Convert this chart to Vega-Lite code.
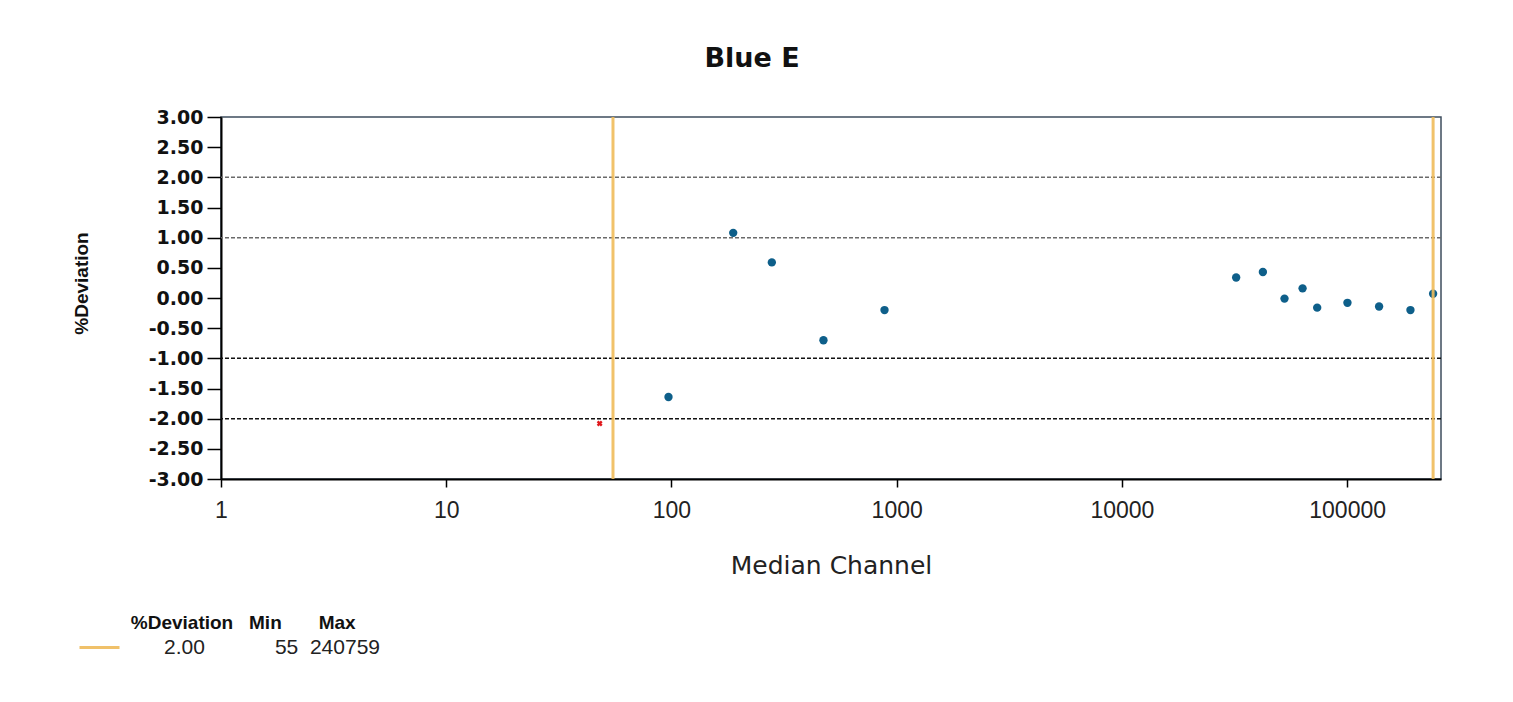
{
  "$schema": "https://vega.github.io/schema/vega-lite/v6.json",
  "width": 1220,
  "height": 362,
  "autosize": {"type": "none"},
  "padding": {"left": 221, "top": 117, "right": 72, "bottom": 223},
  "background": "#ffffff",
  "title": {
    "text": "Blue E",
    "font": "DejaVu Sans",
    "fontSize": 27,
    "fontWeight": "bold",
    "color": "#111111",
    "anchor": "middle",
    "dx": -79,
    "baseline": "alphabetic",
    "offset": 14
  },
  "config": {
    "view": {"stroke": "#3e4e5e", "strokeWidth": 1.5},
    "axis": {"grid": false}
  },
  "datasets": {
    "points": [
      {"channel": 48, "dev": -2.08, "status": "out"},
      {"channel": 97, "dev": -1.64, "status": "in"},
      {"channel": 188, "dev": 1.08, "status": "in"},
      {"channel": 279, "dev": 0.59, "status": "in"},
      {"channel": 473, "dev": -0.70, "status": "in"},
      {"channel": 883, "dev": -0.20, "status": "in"},
      {"channel": 32150, "dev": 0.34, "status": "in"},
      {"channel": 42250, "dev": 0.43, "status": "in"},
      {"channel": 52700, "dev": -0.01, "status": "in"},
      {"channel": 63400, "dev": 0.16, "status": "in"},
      {"channel": 73600, "dev": -0.16, "status": "in"},
      {"channel": 100300, "dev": -0.08, "status": "in"},
      {"channel": 138600, "dev": -0.14, "status": "in"},
      {"channel": 191000, "dev": -0.20, "status": "in"},
      {"channel": 240759, "dev": 0.07, "status": "in"}
    ],
    "upperGrid": [{"dev": 2}, {"dev": 1}],
    "lowerGrid": [{"dev": -1}, {"dev": -2}],
    "limits": [
      {"channel": 55, "limit": "2.00"},
      {"channel": 240759, "limit": "2.00"}
    ]
  },
  "layer": [
    {
      "data": {"name": "upperGrid"},
      "mark": {"type": "rule", "color": "#6a6a6a", "strokeWidth": 1.5, "strokeDash": [4, 2]},
      "encoding": {
        "y": {"field": "dev", "type": "quantitative", "scale": {"domain": [-3, 3]}}
      }
    },
    {
      "data": {"name": "lowerGrid"},
      "mark": {"type": "rule", "color": "#111111", "strokeWidth": 1.5, "strokeDash": [4, 2]},
      "encoding": {
        "y": {"field": "dev", "type": "quantitative"}
      }
    },
    {
      "data": {"name": "points"},
      "transform": [{"filter": "datum.status == 'in'"}],
      "mark": {"type": "point", "shape": "circle", "filled": true, "color": "#0e5f8a", "opacity": 1, "size": 70},
      "encoding": {
        "x": {
          "field": "channel",
          "type": "quantitative",
          "scale": {"type": "log", "domain": [1, 261000], "nice": false},
          "axis": {
            "values": [1, 10, 100, 1000, 10000, 100000],
            "tickCount": 20,
            "format": "d",
            "title": "Median Channel",
            "titleFont": "DejaVu Sans",
            "titleFontSize": 25,
            "titleFontWeight": "normal",
            "titleColor": "#222222",
            "titleY": 94,
            "titleBaseline": "alphabetic",
            "labelFont": "Liberation Sans",
            "labelFontSize": 23,
            "labelColor": "#222222",
            "labelPadding": 12,
            "labelBaseline": "top",
            "labelFlush": false,
            "labelOverlap": false,
            "domainColor": "#000000",
            "domainWidth": 2,
            "tickColor": "#000000",
            "tickWidth": 1.5,
            "tickSize": 8
          }
        },
        "y": {
          "field": "dev",
          "type": "quantitative",
          "scale": {"domain": [-3, 3], "nice": false},
          "axis": {
            "values": [-3, -2.5, -2, -1.5, -1, -0.5, 0, 0.5, 1, 1.5, 2, 2.5, 3],
            "tickCount": 20,
            "format": ".2f",
            "labelExpr": "replace(datum.label, '\u2212', '-')",
            "labelOverlap": false,
            "title": "%Deviation",
            "titleFont": "Liberation Sans",
            "titleFontSize": 19,
            "titleFontWeight": "bold",
            "titleColor": "#111111",
            "titleX": -140,
            "titleY": 166,
            "titleAngle": -90,
            "titleAlign": "center",
            "titleBaseline": "middle",
            "labelFont": "DejaVu Sans",
            "labelFontSize": 19,
            "labelFontWeight": "bold",
            "labelColor": "#111111",
            "labelPadding": 4,
            "domainColor": "#000000",
            "domainWidth": 2,
            "tickColor": "#000000",
            "tickWidth": 1.5,
            "tickSize": 14
          }
        }
      }
    },
    {
      "data": {"name": "points"},
      "transform": [{"filter": "datum.status == 'out'"}],
      "mark": {"type": "point", "shape": "cross", "angle": 45, "filled": true, "color": "#e0181c", "opacity": 1, "size": 35},
      "encoding": {
        "x": {"field": "channel", "type": "quantitative"},
        "y": {"field": "dev", "type": "quantitative"}
      }
    },
    {
      "data": {"name": "limits"},
      "mark": {"type": "rule", "strokeWidth": 3, "opacity": 0.9},
      "encoding": {
        "x": {"field": "channel", "type": "quantitative"},
        "color": {
          "field": "limit",
          "type": "nominal",
          "scale": {"domain": ["2.00"], "range": ["#efbb5a"]},
          "legend": {
            "orient": "none",
            "legendX": -143,
            "legendY": 497,
            "title": "\u200b\u00a0\u00a0\u00a0\u00a0\u00a0\u00a0\u00a0\u00a0\u00a0\u00a0%Deviation\u00a0\u00a0\u00a0Min\u00a0\u00a0\u00a0\u00a0\u00a0\u00a0\u00a0Max",
            "titleFont": "Liberation Sans",
            "titleFontSize": 19,
            "titleFontWeight": "bold",
            "titleColor": "#111111",
            "titlePadding": -7,
            "titleLimit": 600,
            "symbolType": "stroke",
            "symbolSize": 1600,
            "symbolStrokeWidth": 3,
            "symbolStrokeColor": "#efbb5a",
            "labelExpr": "'2.00\u00a0\u00a0\u00a0\u00a0\u00a0\u00a0\u00a0\u00a0\u00a0\u00a0\u00a0\u00a055\u00a0\u00a0240759'",
            "labelFont": "Liberation Sans",
            "labelFontSize": 21,
            "labelColor": "#222222",
            "labelOffset": 43,
            "labelLimit": 600
          }
        }
      }
    }
  ]
}
